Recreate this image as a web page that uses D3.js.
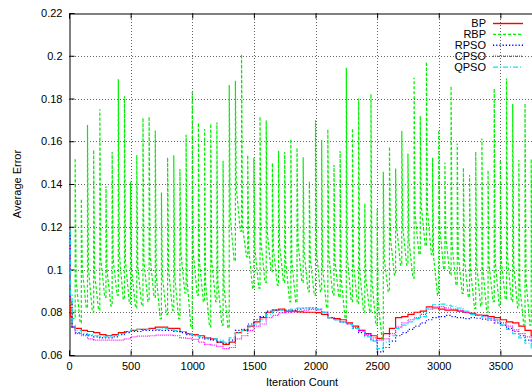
<!DOCTYPE html>
<html>
<head>
<meta charset="utf-8">
<script src="https://cdn.jsdelivr.net/npm/d3@7"></script>
<style>
body { margin: 0; background: #fff; }
svg { display: block; overflow: hidden; }
text { font-family: "Liberation Sans", Arial, sans-serif; font-size: 11px; fill: #000; }
</style>
</head>
<body>
<div id="chart"></div>
<script>
// sample iterations for the four smooth-ish series (drawn as steps)
var iters = [0, 10, 25, 50, 100, 150, 200, 250, 300, 350, 400, 450, 500, 550, 600, 650, 700, 750, 800, 850, 900, 950,
	1000, 1050, 1100, 1150, 1200, 1250, 1300, 1350, 1400, 1450, 1500, 1550, 1600, 1650, 1700, 1750, 1800, 1850, 1900, 1950,
	2000, 2050, 2100, 2150, 2200, 2250, 2300, 2350, 2400, 2450, 2500, 2550, 2600, 2650, 2700, 2750, 2800, 2850, 2900, 2950,
	3000, 3050, 3100, 3150, 3200, 3250, 3300, 3350, 3400, 3450, 3500, 3550, 3600, 3650, 3700, 3750, 3800];

var bpErr = [0.090, 0.078, 0.073, 0.0725, 0.0715, 0.071, 0.0705, 0.0695, 0.069, 0.0695, 0.0705, 0.071, 0.0715, 0.072, 0.072, 0.0725, 0.073, 0.073, 0.0725, 0.0725, 0.071, 0.070,
	0.0695, 0.069, 0.068, 0.0675, 0.066, 0.065, 0.066, 0.0705, 0.0715, 0.0735, 0.0755, 0.0775, 0.080, 0.081, 0.0815, 0.0805, 0.0805, 0.0802, 0.080, 0.080,
	0.0798, 0.079, 0.0775, 0.077, 0.0765, 0.075, 0.0735, 0.0715, 0.070, 0.069, 0.0678, 0.070, 0.0725, 0.0775, 0.078, 0.079, 0.080, 0.0805, 0.0825, 0.082,
	0.0815, 0.081, 0.081, 0.0805, 0.080, 0.0795, 0.0787, 0.0785, 0.078, 0.0775, 0.0765, 0.0755, 0.075, 0.0735, 0.0715, 0.069, 0.068];

var rpsoErr = [0.117, 0.085, 0.073, 0.0705, 0.0695, 0.069, 0.0685, 0.068, 0.068, 0.0685, 0.0695, 0.0705, 0.071, 0.071, 0.0715, 0.0715, 0.0715, 0.0715, 0.0715, 0.071, 0.0705, 0.0695,
	0.069, 0.068, 0.0675, 0.067, 0.066, 0.0655, 0.067, 0.0715, 0.072, 0.0745, 0.0765, 0.078, 0.0805, 0.081, 0.081, 0.081, 0.081, 0.0815, 0.082, 0.082,
	0.0815, 0.080, 0.0775, 0.0765, 0.0755, 0.0745, 0.0725, 0.0705, 0.069, 0.067, 0.0615, 0.0635, 0.0665, 0.069, 0.0705, 0.072, 0.0735, 0.075, 0.0765, 0.0775,
	0.078, 0.0785, 0.078, 0.0775, 0.077, 0.0775, 0.0772, 0.0768, 0.0763, 0.075, 0.074, 0.0725, 0.071, 0.069, 0.067, 0.0655, 0.064];

var cpsoErr = [0.113, 0.085, 0.073, 0.070, 0.069, 0.0675, 0.067, 0.067, 0.067, 0.067, 0.067, 0.0675, 0.0685, 0.0688, 0.0688, 0.069, 0.0693, 0.0693, 0.0693, 0.069, 0.068, 0.0678,
	0.0673, 0.066, 0.065, 0.0646, 0.064, 0.063, 0.0635, 0.0675, 0.069, 0.0715, 0.0735, 0.0745, 0.0775, 0.0785, 0.0797, 0.080, 0.0802, 0.0805, 0.081, 0.0813,
	0.081, 0.080, 0.0775, 0.0765, 0.0755, 0.0745, 0.0728, 0.0715, 0.0695, 0.068, 0.067, 0.0675, 0.070, 0.073, 0.075, 0.0765, 0.0775, 0.079, 0.0815, 0.0825,
	0.0826, 0.082, 0.0815, 0.081, 0.080, 0.0795, 0.0787, 0.078, 0.077, 0.076, 0.075, 0.0735, 0.0718, 0.070, 0.0685, 0.067, 0.066];

var qpsoErr = [0.118, 0.088, 0.074, 0.0715, 0.070, 0.0695, 0.069, 0.0685, 0.0685, 0.069, 0.070, 0.071, 0.0715, 0.072, 0.072, 0.072, 0.072, 0.0725, 0.072, 0.0715, 0.071, 0.070,
	0.0693, 0.0685, 0.068, 0.0675, 0.067, 0.066, 0.068, 0.0705, 0.0715, 0.073, 0.0745, 0.0765, 0.079, 0.0805, 0.081, 0.081, 0.0815, 0.082, 0.082, 0.0822,
	0.0815, 0.080, 0.0775, 0.0765, 0.0755, 0.0745, 0.0725, 0.071, 0.0685, 0.0665, 0.063, 0.066, 0.069, 0.0725, 0.074, 0.0755, 0.077, 0.078, 0.082, 0.0835,
	0.0838, 0.0832, 0.0828, 0.082, 0.0805, 0.079, 0.0785, 0.078, 0.0772, 0.0765, 0.074, 0.072, 0.070, 0.068, 0.0655, 0.063, 0.062];

// RBP: start, then a spike every 50 iterations (peak, quick knee, trough)
var rbpHeadIter = [0, 15, 30];
var rbpHeadErr = [0.115, 0.085, 0.077];
var rbpSpikeIter = [50, 100, 150, 200, 250, 300, 350, 400, 450, 500, 550, 600, 650, 700, 750, 800, 850, 900, 950,
	1000, 1050, 1100, 1150, 1200, 1250, 1300, 1350, 1400, 1450, 1500, 1550, 1600, 1650, 1700, 1750, 1800, 1850, 1900, 1950,
	2000, 2050, 2100, 2150, 2200, 2250, 2300, 2350, 2400, 2450, 2500, 2550, 2600, 2650, 2700, 2750, 2800, 2850, 2900, 2950,
	3000, 3050, 3100, 3150, 3200, 3250, 3300, 3350, 3400, 3450, 3500, 3550, 3600, 3650, 3700, 3750];
var rbpPeak = [0.152, 0.133, 0.1676, 0.156, 0.175, 0.139, 0.155, 0.189, 0.181, 0.141, 0.1535, 0.171, 0.1715, 0.165, 0.136, 0.1525, 0.1535, 0.147, 0.163,
	0.183, 0.1687, 0.1657, 0.1682, 0.1688, 0.1509, 0.1863, 0.1883, 0.2008, 0.1535, 0.1523, 0.1716, 0.1698, 0.1498, 0.1556, 0.155, 0.161, 0.157, 0.1525, 0.141,
	0.1698, 0.1606, 0.1656, 0.1489, 0.1554, 0.1944, 0.166, 0.180, 0.1309, 0.1821, 0.1283, 0.1457, 0.1574, 0.1473, 0.1648, 0.1543, 0.1897, 0.1718, 0.1972, 0.1523,
	0.1652, 0.150, 0.1858, 0.159, 0.1476, 0.1442, 0.1551, 0.1613, 0.1465, 0.1847, 0.1512, 0.1894, 0.1774, 0.1512, 0.1777, 0.1517];
var rbpKnee = [0.095, 0.100, 0.100, 0.098, 0.105, 0.100, 0.105, 0.108, 0.104, 0.100, 0.101, 0.104, 0.106, 0.097, 0.097, 0.100, 0.097, 0.108, 0.095,
	0.108, 0.104, 0.094, 0.104, 0.094, 0.092, 0.125, 0.138, 0.120, 0.110, 0.110, 0.113, 0.118, 0.110, 0.112, 0.104, 0.104, 0.113, 0.108, 0.105,
	0.108, 0.101, 0.107, 0.104, 0.096, 0.106, 0.103, 0.100, 0.096, 0.095, 0.085, 0.105, 0.115, 0.120, 0.120, 0.114, 0.126, 0.130, 0.128, 0.106,
	0.120, 0.115, 0.112, 0.107, 0.105, 0.100, 0.102, 0.100, 0.103, 0.104, 0.104, 0.106, 0.102, 0.092, 0.095, 0.094];
var rbpTrough = [0.075, 0.082, 0.080, 0.081, 0.087, 0.083, 0.088, 0.086, 0.084, 0.082, 0.083, 0.085, 0.087, 0.077, 0.079, 0.081, 0.077, 0.089, 0.0725,
	0.088, 0.085, 0.0732, 0.085, 0.074, 0.0726, 0.104, 0.118, 0.106, 0.091, 0.0913, 0.094, 0.099, 0.0927, 0.094, 0.085, 0.0845, 0.094, 0.0896, 0.088,
	0.0896, 0.082, 0.088, 0.087, 0.0771, 0.085, 0.084, 0.080, 0.080, 0.074, 0.067, 0.0896, 0.0974, 0.102, 0.102, 0.096, 0.107, 0.111, 0.107, 0.088,
	0.100, 0.0974, 0.0927, 0.0888, 0.087, 0.0818, 0.083, 0.080, 0.085, 0.083, 0.086, 0.085, 0.082, 0.074, 0.074, 0.075];

// x axis runs to 4000, but only ticks up to 3500 fall inside the picture
var xTicks = [0, 500, 1000, 1500, 2000, 2500, 3000, 3500];
var xTickLabels = ['0', '500', '1000', '1500', '2000', '2500', '3000', '3500'];
var yTicks = [0.06, 0.08, 0.1, 0.12, 0.14, 0.16, 0.18, 0.2, 0.22];
var yTickLabels = ['0.06', '0.08', '0.1', '0.12', '0.14', '0.16', '0.18', '0.2', '0.22'];

var seriesNames = ['BP', 'RBP', 'RPSO', 'CPSO', 'QPSO'];
var seriesColors = ['#ff0000', '#00ee00', '#0000ff', '#ff00ff', '#00e8f0'];
var seriesDash = [null, '3,2', '1.2,2', '1,1', '5,2,1,2'];

var width = 532;
var height = 392;
var plotLeft = 69, plotRight = 562, plotTop = 13, plotBottom = 355;

var x = d3.scaleLinear().domain([0, 4000]).range([plotLeft, plotRight]);
var y = d3.scaleLinear().domain([0.06, 0.22]).range([plotBottom, plotTop]);

var svg = d3.select('#chart')
	.append('svg')
	.attr('width', width)
	.attr('height', height);

svg.append('defs').append('clipPath')
	.attr('id', 'plot')
	.append('rect')
	.attr('x', plotLeft).attr('y', plotTop)
	.attr('width', plotRight - plotLeft).attr('height', plotBottom - plotTop);

// grid
var grid = svg.append('g').attr('class', 'grid');
grid.selectAll('.gx')
	.data(xTicks.slice(1))
	.enter()
	.append('line')
	.attr('x1', function(d){ return Math.round(x(d)) + 0.5; })
	.attr('x2', function(d){ return Math.round(x(d)) + 0.5; })
	.attr('y1', plotTop).attr('y2', plotBottom);
grid.selectAll('.gy')
	.data(yTicks.slice(1, -1))
	.enter()
	.append('line')
	.attr('x1', plotLeft).attr('x2', plotRight)
	.attr('y1', function(d){ return Math.round(y(d)) + 0.5; })
	.attr('y2', function(d){ return Math.round(y(d)) + 0.5; });
grid.selectAll('line')
	.attr('stroke', '#666')
	.attr('stroke-width', 1)
	.attr('stroke-dasharray', '1,2');

// axes, ticks pointing inward like gnuplot
var yAxis = d3.axisLeft(y)
	.tickValues(yTicks)
	.tickSize(-5)
	.tickPadding(7)
	.tickFormat(function(d, i){ return yTickLabels[i]; });
var xAxis = d3.axisBottom(x)
	.tickValues(xTicks)
	.tickSize(-5)
	.tickPadding(7)
	.tickFormat(function(d, i){ return xTickLabels[i]; });
var xTop = d3.axisTop(x)
	.tickValues(xTicks)
	.tickSize(-5)
	.tickFormat('');

svg.append('g')
	.attr('class', 'axis')
	.attr('transform', 'translate(' + (plotLeft + 0.5) + ',0)')
	.call(yAxis);
svg.append('g')
	.attr('class', 'axis')
	.attr('transform', 'translate(0,' + (plotBottom + 0.5) + ')')
	.call(xAxis);
svg.append('g')
	.attr('class', 'axis')
	.attr('transform', 'translate(0,' + (plotTop + 0.5) + ')')
	.call(xTop);
svg.selectAll('.axis path').attr('stroke', '#000');
svg.selectAll('.axis line').attr('stroke', '#000');
svg.selectAll('.axis text')
	.style('font-family', '"Liberation Sans", Arial, sans-serif')
	.style('font-size', '11px')
	.attr('fill', '#111');

// series
var stepLine = d3.line()
	.x(function(d){ return x(d[0]); })
	.y(function(d){ return y(d[1]); })
	.curve(d3.curveStepAfter);
var plainLine = d3.line()
	.x(function(d){ return x(d[0]); })
	.y(function(d){ return y(d[1]); });

function pairs(xs, ys){
	return xs.map(function(v, i){ return [v, ys[i]]; });
}

var rbpPoints = pairs(rbpHeadIter, rbpHeadErr);
rbpSpikeIter.forEach(function(s, i){
	var prev = i == 0 ? rbpHeadErr[rbpHeadErr.length - 1] : rbpTrough[i - 1];
	rbpPoints.push([s, prev]);
	rbpPoints.push([s, rbpPeak[i]]);
	rbpPoints.push([s + 8, rbpKnee[i]]);
	rbpPoints.push([s + 40, rbpTrough[i]]);
});

var seriesPaths = [
	stepLine(pairs(iters, bpErr)),
	plainLine(rbpPoints),
	stepLine(pairs(iters, rpsoErr)),
	stepLine(pairs(iters, cpsoErr)),
	stepLine(pairs(iters, qpsoErr))
];

var plot = svg.append('g').attr('clip-path', 'url(#plot)');
plot.selectAll('path')
	.data(seriesPaths)
	.enter()
	.append('path')
	.attr('d', function(d){ return d; })
	.attr('fill', 'none')
	.attr('stroke', function(d, i){ return seriesColors[i]; })
	.attr('stroke-width', 1.2)
	.attr('stroke-dasharray', function(d, i){ return seriesDash[i]; });

// legend
var legendRow = 10.9;
var legend = svg.selectAll('.legend')
	.data(seriesNames)
	.enter()
	.append('g')
	.attr('class', 'legend')
	.attr('transform', function(d, i){
		return 'translate(0,' + (23 + i * legendRow) + ')';
	});
legend.append('text')
	.attr('x', 486)
	.attr('y', 4)
	.attr('text-anchor', 'end')
	.text(function(d){ return d; });
legend.append('line')
	.attr('x1', 493).attr('x2', 523)
	.attr('y1', 0.5).attr('y2', 0.5)
	.attr('stroke-width', 1.4)
	.attr('stroke', function(d){ return seriesColors[seriesNames.indexOf(d)]; })
	.attr('stroke-dasharray', function(d){ return seriesDash[seriesNames.indexOf(d)]; });

// axis titles
svg.append('text')
	.attr('x', 302)
	.attr('y', 386)
	.attr('text-anchor', 'middle')
	.text('Iteration Count');
svg.append('text')
	.attr('transform', 'translate(21,184) rotate(-90)')
	.attr('text-anchor', 'middle')
	.text('Average Error');
</script>
</body>
</html>
